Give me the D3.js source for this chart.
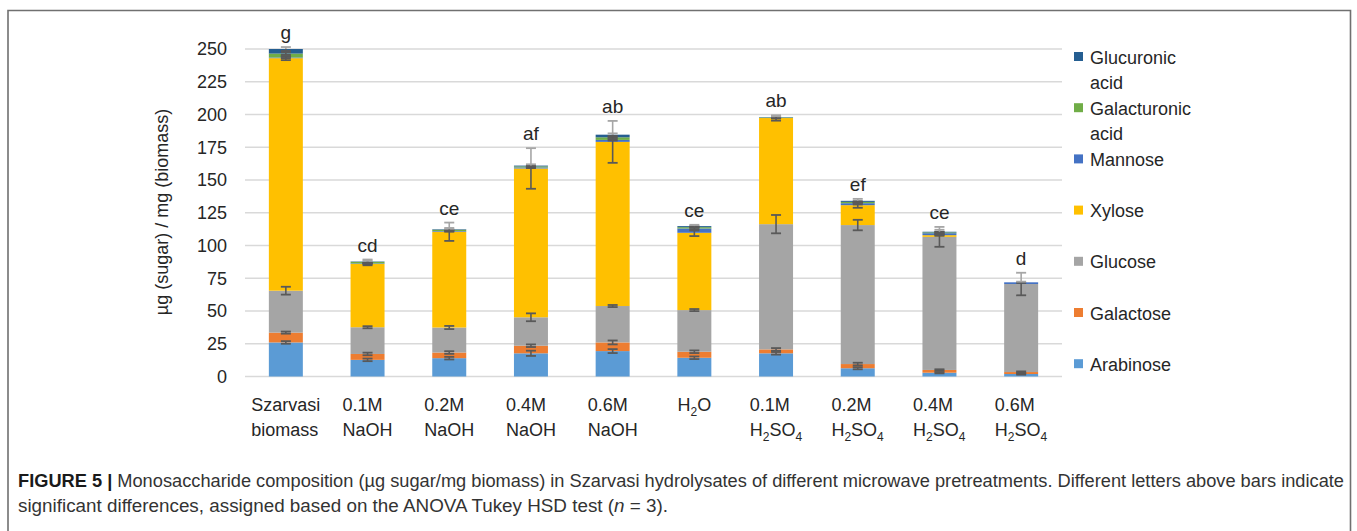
<!DOCTYPE html>
<html>
<head>
<meta charset="utf-8">
<script src="https://cdn.jsdelivr.net/npm/d3@7"></script>
<style>
  body { margin: 0; background: #fff; }
  text { font-family: "Liberation Sans", Arial, sans-serif; }
</style>
</head>
<body>
<div id="chart"></div>
<script>
var width = 1357;
var height = 531;

// categories (label lines, "_" marks a subscript digit)
let categories = ["Szarvasi biomass", "0.1M NaOH", "0.2M NaOH", "0.4M NaOH", "0.6M NaOH",
                  "H2O", "0.1M H2SO4", "0.2M H2SO4", "0.4M H2SO4", "0.6M H2SO4"];
let categoryLines = [["Szarvasi", "biomass"], ["0.1M", "NaOH"], ["0.2M", "NaOH"], ["0.4M", "NaOH"],
                     ["0.6M", "NaOH"], ["H_2O"], ["0.1M", "H_2SO_4"], ["0.2M", "H_2SO_4"],
                     ["0.4M", "H_2SO_4"], ["0.6M", "H_2SO_4"]];

// series values, µg sugar / mg biomass (bottom to top of the stack)
let seriesNames = ["Arabinose", "Galactose", "Glucose", "Xylose", "Mannose", "Galacturonic acid", "Glucuronic acid"];
let arabinose    = [26,   12.7, 14,   17.7,  19.4,  14.3, 17.7, 6.3,   2.9,   1.9];
let galactose    = [7.5,  4.5,  4.3,  5.8,   6.6,   4.6,  3,    3.2,   2.1,   1.5];
let glucose      = [32,   20.4, 19.1, 21.7,  27.8,  31.8, 95.6, 106.1, 101.6, 67.2];
let xylose       = [177.5,48.3, 73.1, 113.6, 125.3, 59,   81,   15.2,  1.3,   0];
let mannose      = [0.5,  0.4,  0.5,  0.8,   1.5,   3.3,  0.3,  1.5,   1.5,   1.3];
let galacturonic = [3,    1.2,  1,    0.8,   2,     1,    0.3,  1,     0.6,   0];
let glucuronic   = [3.5,  0.3,  0.4,  0.6,   2,     0.8,  0.2,  0.8,   0.5,   0];

// standard deviations
let arabinoseErr    = [1,   1,   1,   2,    1.5, 1,   1,   0.8, 0.5, 0.5];
let galactoseErr    = [0.8, 1,   1,   1,    1.5, 1,   1,   1,   0.5, 0.5];
let glucoseErr      = [3,   0.8, 1.2, 3,    0.8, 0.8, 7,   4,   7.6, 8.6];
let xyloseErr       = [1.5, 1,   7,   15.5, 16,  2.5, 2,   2,   0.5, 0];
let mannoseErr      = [0.5, 0.5, 0.5, 0.5,  0.5, 1.5, 0.5, 1,   1,   0.5];
let galacturonicErr = [1,   1,   0.5, 0.5,  0.5, 0.5, 0.5, 0.5, 0.5, 0];
let glucuronicErr   = [1.5, 1.5, 1,   1,    1,   1,   1,   1.5, 1.5, 0];

// Tukey letters
let letters = ["g", "cd", "ce", "af", "ab", "ce", "ab", "ef", "ce", "d"];

let yTicks = [0, 25, 50, 75, 100, 125, 150, 175, 200, 225, 250];
let legendLines = [["Glucuronic", "acid"], ["Galacturonic", "acid"], ["Mannose"], ["Xylose"],
                   ["Glucose"], ["Galactose"], ["Arabinose"]];
let captionBold = "FIGURE 5 |";
let captionLine1 = " Monosaccharide composition (\u00b5g sugar/mg biomass) in Szarvasi hydrolysates of different microwave pretreatments. Different letters above bars indicate";
let captionLine2 = "significant differences, assigned based on the ANOVA Tukey HSD test (";
let captionLine2b = " = 3).";

let colors = ["#5b9bd5", "#ed7d31", "#a5a5a5", "#ffc000", "#4472c4", "#70ad47", "#255e91"];
let values = [arabinose, galactose, glucose, xylose, mannose, galacturonic, glucuronic];
let errors = [arabinoseErr, galactoseErr, glucoseErr, xyloseErr, mannoseErr, galacturonicErr, glucuronicErr];

let table = categories.map((c, i) => {
  let row = {cat: c};
  seriesNames.forEach((s, k) => row[s] = values[k][i]);
  return row;
});
let stacked = d3.stack().keys(seriesNames)(table);

let scaleX = d3.scaleBand()
  .domain(categories)
  .range([245, 1062])
  .paddingInner(0.584)
  .paddingOuter(0.292);

let scaleY = d3.scaleLinear()
  .domain([0, 250])
  .range([376.5, 49]);

let svg = d3.select("#chart").append("svg")
  .attr("width", width)
  .attr("height", height);

// frame
svg.append("path")
  .attr("d", "M8,540 L8,10.5 L1350.5,10.5 L1350.5,540")
  .attr("fill", "none")
  .attr("stroke", "#707070")
  .attr("stroke-width", 1.6);

// gridlines
svg.append("g").selectAll("line")
  .data(yTicks)
  .enter().append("line")
  .attr("x1", 245).attr("x2", 1062)
  .attr("y1", d => scaleY(d)).attr("y2", d => scaleY(d))
  .attr("stroke", "#d9d9d9")
  .attr("stroke-width", 1.3);

// y axis labels
let yAxis = svg.append("g")
  .attr("transform", "translate(237,0)")
  .call(d3.axisLeft(scaleY).tickValues(yTicks).tickSize(0).tickPadding(10));
yAxis.select(".domain").remove();
yAxis.selectAll("text")
  .attr("font-family", "Liberation Sans, Arial, sans-serif")
  .attr("font-size", 18)
  .attr("fill", "#262626");

svg.append("text")
  .attr("transform", "translate(168,212) rotate(-90)")
  .attr("text-anchor", "middle")
  .attr("font-size", 18)
  .attr("fill", "#262626")
  .text("\u00b5g (sugar) / mg (biomass)");

// bars
let bw = scaleX.bandwidth();
svg.append("g").selectAll("g")
  .data(stacked)
  .enter().append("g")
  .attr("fill", (d, k) => colors[k])
  .selectAll("rect")
  .data(d => d)
  .enter().append("rect")
  .attr("x", d => scaleX(d.data.cat))
  .attr("width", bw)
  .attr("y", d => scaleY(d[1]))
  .attr("height", d => scaleY(d[0]) - scaleY(d[1]));

// error bars: part inside the stack dark, part above it light
let totals = categories.map((c, i) => d3.sum(values, v => v[i]));
let errG = svg.append("g");
stacked.forEach((layer, k) => {
  layer.forEach((d, i) => {
    let e = errors[k][i];
    if (values[k][i] <= 0 || e <= 0) return;
    let cx = scaleX(d.data.cat) + bw / 2;
    let lo = d[1] - e, hi = d[1] + e;
    let top = totals[i];
    let segs = [];
    if (hi > top) {
      segs.push({a: lo, b: Math.min(top, hi), c: "#595959"});
      segs.push({a: Math.max(lo, top), b: hi, c: "#a6a6a6"});
    } else {
      segs.push({a: lo, b: hi, c: "#595959"});
    }
    segs.forEach(s => {
      errG.append("line")
        .attr("x1", cx).attr("x2", cx)
        .attr("y1", scaleY(s.a)).attr("y2", scaleY(s.b))
        .attr("stroke", s.c).attr("stroke-width", 1.6);
    });
    [lo, hi].forEach(v => {
      errG.append("line")
        .attr("x1", cx - 5).attr("x2", cx + 5)
        .attr("y1", scaleY(v)).attr("y2", scaleY(v))
        .attr("stroke", v > top ? "#a6a6a6" : "#595959")
        .attr("stroke-width", 1.8);
    });
  });
});

// letters
let tops = categories.map((c, i) => {
  let m = totals[i];
  stacked.forEach((layer, k) => {
    if (values[k][i] > 0) m = Math.max(m, layer[i][1] + errors[k][i]);
  });
  return m;
});
svg.append("g").selectAll("text")
  .data(letters)
  .enter().append("text")
  .attr("x", (d, i) => scaleX(categories[i]) + bw / 2)
  .attr("y", (d, i) => scaleY(tops[i]) - 8)
  .attr("text-anchor", "middle")
  .attr("font-size", 19)
  .attr("fill", "#262626")
  .text(d => d);

// x labels
function addSubText(sel, str) {
  let shift = 0;
  str.split(/(_\d)/).forEach(part => {
    if (!part) return;
    if (part[0] === "_") {
      sel.append("tspan").attr("font-size", 12).attr("dy", 5 - shift).text(part[1]);
      shift = 5;
    } else {
      sel.append("tspan").attr("dy", -shift).text(part);
      shift = 0;
    }
  });
}
categoryLines.forEach((lines, i) => {
  let g = svg.append("g");
  lines.forEach((ln, j) => {
    let t = g.append("text")
      .attr("x", 0)
      .attr("y", 411 + j * 25)
      .attr("font-size", 18)
      .attr("fill", "#262626");
    addSubText(t, ln);
  });
  let w = g.node().getBBox().width;
  g.attr("transform", "translate(" + (scaleX(categories[i]) + bw / 2 - w / 2) + ",0)");
});

// legend (top to bottom: last series first)
let legend = svg.append("g").selectAll("g")
  .data(legendLines)
  .enter().append("g")
  .attr("transform", (d, i) => "translate(1074," + (57 + i * 51.2) + ")");
legend.append("rect")
  .attr("x", 0).attr("y", -5)
  .attr("width", 9).attr("height", 9)
  .attr("fill", (d, i) => colors[colors.length - 1 - i]);
legend.each(function(d) {
  let t = d3.select(this);
  d.forEach((ln, j) => {
    t.append("text")
      .attr("x", 16)
      .attr("y", 6.5 + j * 25)
      .attr("font-size", 18)
      .attr("fill", "#262626")
      .text(ln);
  });
});

// caption
let c1 = svg.append("text")
  .attr("x", 18).attr("y", 487)
  .attr("font-size", 17.5)
  .attr("fill", "#333333")
  .attr("textLength", 1326)
  .attr("lengthAdjust", "spacingAndGlyphs");
c1.append("tspan").attr("font-weight", "bold").attr("fill", "#1a1a1a").text(captionBold);
c1.append("tspan").text(captionLine1);

let c2 = svg.append("text")
  .attr("x", 18).attr("y", 512)
  .attr("font-size", 17.5)
  .attr("fill", "#333333")
  .attr("textLength", 650)
  .attr("lengthAdjust", "spacingAndGlyphs");
c2.append("tspan").text(captionLine2);
c2.append("tspan").attr("font-style", "italic").text("n");
c2.append("tspan").text(captionLine2b);
</script>
</body>
</html>
